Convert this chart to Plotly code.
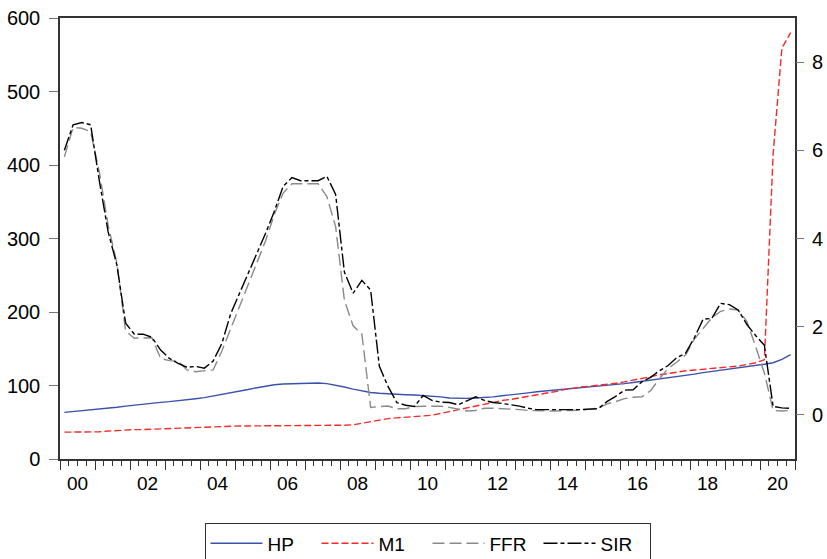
import plotly.graph_objects as go

# Quarterly observations 2000Q1 .. 2020Q4
start_year = 2000
n_quarters = 84

HP = [
    63.5, 64.5, 65.5, 66.5,      # 2000
    67.5, 69.0, 70.5, 72.0,      # 2001
    73.5, 75.0, 76.0, 77.0,      # 2002
    78.0, 79.0, 80.5, 82.0,      # 2003
    83.5, 85.5, 87.5, 90.0,      # 2004
    92.0, 94.5, 97.0, 99.5,      # 2005
    101.0, 102.0, 102.5, 103.0,  # 2006
    103.5, 103.5, 102.5, 100.5,  # 2007
    98.0, 95.0, 92.5, 90.5,      # 2008
    89.5, 88.5, 88.0, 87.5,      # 2009
    87.0, 86.5, 85.5, 84.5,      # 2010
    83.0, 82.5, 82.5, 83.0,      # 2011
    83.5, 84.5, 86.0, 87.0,      # 2012
    88.5, 90.0, 91.5, 92.5,      # 2013
    93.5, 94.5, 95.5, 96.5,      # 2014
    97.5, 98.5, 99.5, 101.0,     # 2015
    102.5, 104.0, 105.5, 107.5,  # 2016
    109.0, 111.0, 112.5, 114.0,  # 2017
    115.5, 117.5, 119.0, 120.5,  # 2018
    122.0, 124.0, 125.5, 127.0,  # 2019
    129.0, 131.0, 135.5, 142.0,  # 2020
]

M1 = [
    36.5, 36.5, 36.5, 36.5,      # 2000
    37.0, 38.0, 39.0, 39.5,      # 2001
    40.0, 40.0, 40.5, 41.0,      # 2002
    41.5, 42.0, 43.0, 43.5,      # 2003
    44.0, 44.5, 44.5, 45.0,      # 2004
    45.0, 45.0, 45.0, 45.5,      # 2005
    45.5, 45.5, 45.5, 45.5,      # 2006
    45.5, 45.5, 45.5, 45.5,      # 2007
    46.0, 46.5, 48.5, 51.5,      # 2008
    53.5, 55.0, 56.0, 57.0,      # 2009
    57.5, 58.0, 59.5, 62.0,      # 2010
    64.5, 67.0, 70.0, 73.0,      # 2011
    75.5, 77.5, 79.5, 81.0,      # 2012
    83.0, 84.5, 86.5, 89.0,      # 2013
    91.5, 94.0, 96.5, 98.0,      # 2014
    99.0, 100.0, 101.0, 103.0,   # 2015
    105.0, 107.0, 109.5, 112.0,  # 2016
    114.5, 116.5, 118.5, 120.0,  # 2017
    121.0, 122.0, 123.0, 124.0,  # 2018
    125.0, 126.5, 128.5, 131.0,  # 2019
    135.0, 415.0, 559.0, 580.0,  # 2020
]

FFR = [
    5.85, 6.52, 6.50, 6.42,  # 2000
    5.50, 4.30, 3.45, 1.90,  # 2001
    1.74, 1.75, 1.75, 1.28,  # 2002
    1.23, 1.22, 1.02, 0.98,  # 2003
    1.00, 1.02, 1.45, 1.95,  # 2004
    2.45, 2.95, 3.45, 3.95,  # 2005
    4.55, 5.03, 5.24, 5.24,  # 2006
    5.24, 5.24, 4.95, 4.27,  # 2007
    2.60, 2.02, 1.83, 0.17,  # 2008
    0.19, 0.20, 0.14, 0.14,  # 2009
    0.19, 0.19, 0.20, 0.20,  # 2010
    0.17, 0.13, 0.09, 0.10,  # 2011
    0.15, 0.15, 0.14, 0.14,  # 2012
    0.12, 0.10, 0.09, 0.09,  # 2013
    0.09, 0.09, 0.10, 0.11,  # 2014
    0.13, 0.15, 0.25, 0.30,  # 2015
    0.37, 0.40, 0.41, 0.55,  # 2016
    0.82, 1.05, 1.20, 1.36,  # 2017
    1.72, 1.95, 2.20, 2.35,  # 2018
    2.40, 2.38, 2.12, 1.55,  # 2019
    0.95, 0.10, 0.09, 0.10,  # 2020
]

SIR = [
    6.00, 6.58, 6.63, 6.58,  # 2000
    5.30, 4.15, 3.40, 2.08,  # 2001
    1.83, 1.83, 1.76, 1.47,  # 2002
    1.28, 1.17, 1.08, 1.10,  # 2003
    1.06, 1.22, 1.62, 2.29,  # 2004
    2.75, 3.20, 3.67, 4.12,  # 2005
    4.62, 5.18, 5.38, 5.31,  # 2006
    5.31, 5.31, 5.41, 5.00,  # 2007
    3.24, 2.76, 3.05, 2.83,  # 2008
    1.10, 0.64, 0.28, 0.22,  # 2009
    0.19, 0.44, 0.33, 0.29,  # 2010
    0.28, 0.23, 0.32, 0.41,  # 2011
    0.33, 0.28, 0.26, 0.23,  # 2012
    0.20, 0.15, 0.12, 0.12,  # 2013
    0.12, 0.11, 0.12, 0.12,  # 2014
    0.13, 0.14, 0.30, 0.42,  # 2015
    0.56, 0.57, 0.75, 0.85,  # 2016
    1.00, 1.12, 1.30, 1.40,  # 2017
    1.75, 2.17, 2.19, 2.53,  # 2018
    2.50, 2.38, 2.05, 1.80,  # 2019
    1.58, 0.19, 0.16, 0.15,  # 2020
]

year_labels = ["00", "02", "04", "06", "08", "10", "12", "14", "16", "18", "20"]
left_ticks = [0, 100, 200, 300, 400, 500, 600]
right_ticks = [0, 2, 4, 6, 8]

# quarter-centred positions on a continuous year scale
x = [start_year + (q + 0.5) / 4 for q in range(n_quarters)]
end_year = start_year + n_quarters // 4
year_bounds = list(range(start_year, end_year + 1))
quarter_bounds = [start_year + q / 4 for q in range(n_quarters + 1)]
label_pos = [start_year + 2 * k + 0.5 for k in range(len(year_labels))]

FONT = "Liberation Sans, Arial, Helvetica, sans-serif"
AXC = "#333333"
TICKC = "#777777"

fig = go.Figure()
fig.add_trace(go.Scatter(x=x, y=HP, name="HP", mode="lines",
                         line=dict(color="#3a52ab", width=1.4), yaxis="y"))
fig.add_trace(go.Scatter(x=x, y=M1, name="M1", mode="lines",
                         line=dict(color="#f22b2b", width=1.4, dash="7px,3px"), yaxis="y"))
fig.add_trace(go.Scatter(x=x, y=FFR, name="FFR", mode="lines",
                         line=dict(color="#8a8a8a", width=1.4, dash="12px,5px"), yaxis="y2"))
fig.add_trace(go.Scatter(x=x, y=SIR, name="SIR", mode="lines",
                         line=dict(color="#000000", width=1.4, dash="14px,3px,4px,3px"), yaxis="y2"))
# carrier for the label axis
fig.add_trace(go.Scatter(x=[start_year, end_year], y=[0, 0], xaxis="x2", yaxis="y",
                         mode="lines", line=dict(width=0), opacity=0,
                         showlegend=False, hoverinfo="skip"))

fig.update_layout(
    width=827, height=559,
    margin=dict(l=60, r=32, t=18, b=100, autoexpand=False),
    paper_bgcolor="white", plot_bgcolor="white",
    font=dict(family=FONT, size=19, color="black"),
    showlegend=True,
    xaxis=dict(
        range=[start_year, end_year], tickmode="array", tickvals=year_bounds,
        ticks="outside", ticklen=9, tickwidth=1, tickcolor=AXC,
        showticklabels=False, showline=True, linecolor=AXC, linewidth=1.5,
        mirror=True, showgrid=False, zeroline=False,
        minor=dict(tickmode="array", tickvals=quarter_bounds, ticks="outside",
                   ticklen=5, tickwidth=1, tickcolor=AXC, showgrid=False),
    ),
    xaxis2=dict(
        overlaying="x", anchor="y", side="bottom",
        range=[start_year, end_year], tickmode="array",
        tickvals=label_pos, ticktext=year_labels, ticks="",
        showline=False, showgrid=False, zeroline=False,
        ticklabelstandoff=11, tickfont=dict(size=19, family=FONT),
    ),
    yaxis=dict(
        range=[0, 600], tickmode="array", tickvals=left_ticks,
        ticks="outside", ticklen=9, tickwidth=1, tickcolor=TICKC,
        showline=True, linecolor=AXC, linewidth=1.5, mirror=True,
        showgrid=False, zeroline=False, ticklabelstandoff=5,
        tickfont=dict(size=20, family=FONT),
    ),
    yaxis2=dict(
        overlaying="y", side="right", range=[-1, 9], tickmode="array",
        tickvals=right_ticks, ticks="outside", ticklen=8, tickwidth=1,
        tickcolor=TICKC, showline=False, showgrid=False, zeroline=False,
        ticklabelstandoff=4, tickfont=dict(size=20, family=FONT),
    ),
    legend=dict(
        orientation="h", x=0.1966, y=-0.146, xanchor="left", yanchor="top",
        bordercolor=AXC, borderwidth=1, bgcolor="white",
        font=dict(size=19, family=FONT), itemwidth=52,
        entrywidth=44, entrywidthmode="pixels",
    ),
)

fig.write_html("out.html")
